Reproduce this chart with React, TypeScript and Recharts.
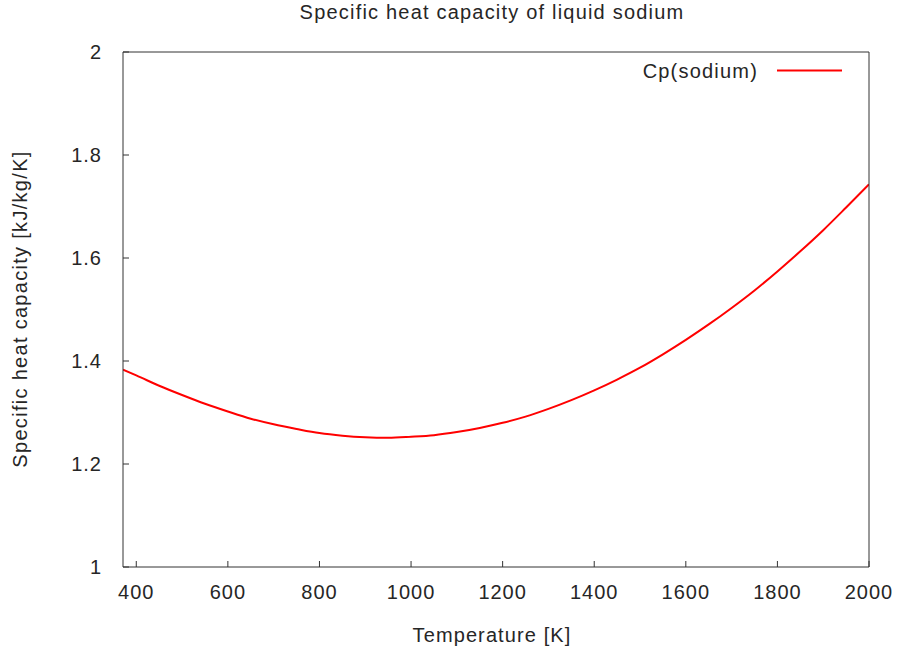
import { LineChart, Line, XAxis, YAxis } from 'recharts'

// temperature [K] and specific heat [kJ/kg/K]
const temperature = [
  371, 400, 450, 500, 550, 600, 650, 700, 750, 800, 850, 900, 950, 1000, 1050, 1100, 1150,
  1200, 1250, 1300, 1350, 1400, 1450, 1500, 1550, 1600, 1650, 1700, 1750, 1800, 1850, 1900,
  1950, 2000,
]
const cpSodium = [
  1.383, 1.372, 1.352, 1.334, 1.317, 1.302, 1.288, 1.277, 1.268, 1.26, 1.255, 1.252, 1.251,
  1.253, 1.256, 1.262, 1.27, 1.28, 1.292, 1.307, 1.324, 1.343, 1.364, 1.387, 1.413, 1.441,
  1.471, 1.503, 1.537, 1.574, 1.613, 1.654, 1.698, 1.743,
]
const xTicks = [400, 600, 800, 1000, 1200, 1400, 1600, 1800, 2000]
const yTicks = [1, 1.2, 1.4, 1.6, 1.8, 2]

const data = temperature.map((t, i) => ({ t, cp: cpSodium[i] }))

const font = '"Liberation Sans", Arial, sans-serif'
const textColor = '#262626'
const axisColor = '#333333'
const tickStyle = { fontSize: 20, fill: textColor, fontFamily: font, letterSpacing: 1 }

export default function App() {
  return (
    <div style={{ position: 'absolute', left: 0, top: 0, width: 897, height: 652, background: '#fff' }}>
      <LineChart width={897} height={652} data={data} margin={{ top: 42, right: 18, left: 63, bottom: 45 }}>
        <XAxis
          xAxisId="bottom"
          dataKey="t"
          type="number"
          domain={[371, 2000]}
          allowDataOverflow
          ticks={xTicks}
          height={40}
          stroke={axisColor}
          tick={tickStyle}
          tickSize={-6}
          tickMargin={24}
          interval={0}
        />
        <XAxis
          xAxisId="top"
          orientation="top"
          type="number"
          domain={[371, 2000]}
          allowDataOverflow
          ticks={xTicks}
          height={10}
          stroke={axisColor}
          tick={false}
          tickSize={-6}
        />
        <YAxis
          yAxisId="left"
          type="number"
          domain={[1, 2]}
          allowDataOverflow
          ticks={yTicks}
          width={60}
          stroke={axisColor}
          tick={tickStyle}
          tickSize={-6}
          tickMargin={27}
          interval={0}
        />
        <YAxis
          yAxisId="right"
          orientation="right"
          type="number"
          domain={[1, 2]}
          allowDataOverflow
          ticks={yTicks}
          width={10}
          stroke={axisColor}
          tick={false}
          tickSize={-6}
        />
        <Line
          xAxisId="bottom"
          yAxisId="left"
          type="monotone"
          dataKey="cp"
          stroke="#ff0000"
          strokeWidth={2}
          dot={false}
          isAnimationActive={false}
        />
      </LineChart>
      <svg
        width={897}
        height={652}
        style={{ position: 'absolute', left: 0, top: 0, pointerEvents: 'none' }}
        fontFamily={font}
        fontSize={20}
        fill={textColor}
      >
        <text x={492} y={19} textAnchor="middle" style={{ letterSpacing: 1.2 }}>
          Specific heat capacity of liquid sodium
        </text>
        <text x={492} y={642} textAnchor="middle" style={{ letterSpacing: 1.1 }}>
          Temperature [K]
        </text>
        <text x={27} y={309} textAnchor="middle" transform="rotate(-90 27 309)" style={{ letterSpacing: 1.3 }}>
          Specific heat capacity [kJ/kg/K]
        </text>
        <text x={758} y={78} textAnchor="end" style={{ letterSpacing: 1.2 }}>
          Cp(sodium)
        </text>
        <line x1={777} y1={70.5} x2={842} y2={70.5} stroke="#ff0000" strokeWidth={2} />
      </svg>
    </div>
  )
}
